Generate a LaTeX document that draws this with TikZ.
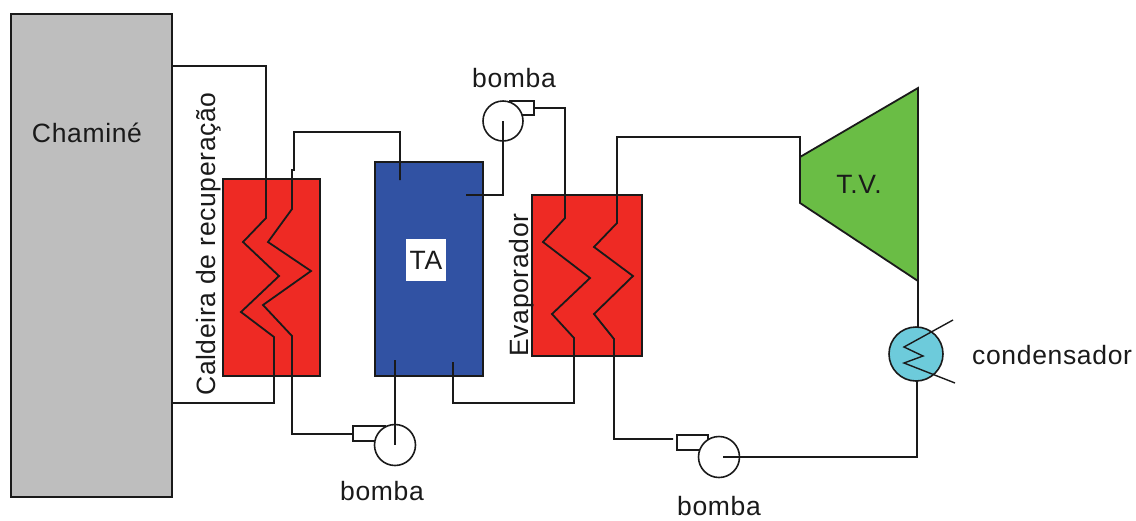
\documentclass[tikz,border=0pt]{standalone}
\usepackage{fontspec}
\setmainfont[LetterSpace=2.5]{Liberation Sans}
\definecolor{cinza}{HTML}{BEBEBE}
\definecolor{vermelho}{HTML}{EE2A24}
\definecolor{azul}{HTML}{3152A3}
\definecolor{verde}{HTML}{6ABD45}
\definecolor{ciano}{HTML}{6DCBDB}
\definecolor{traco}{HTML}{1A1A1A}
\tikzset{
	bloco/.style={draw=traco,line width=1.8pt,inner sep=0pt,outer sep=0pt},
	tubo/.style={draw=traco,line width=1.8pt,line join=miter},
	rotulo/.style={font=\fontsize{26.5}{30}\selectfont,text=traco,inner sep=0pt},
	rotor/.style={circle,draw=traco,fill=white,line width=1.6pt,inner sep=0pt,outer sep=0pt,minimum size=41pt},
}
\begin{document}
\begin{tikzpicture}[x=1pt,y=-1pt]
	\useasboundingbox (0,0) rectangle (1136,520);
	% blocos
	\node[bloco,fill=cinza,minimum width=161pt,minimum height=483pt] (chamine) at (91.5,255.5) {};
	\node[bloco,fill=vermelho,minimum width=97pt,minimum height=197pt] (caldeira) at (271.5,277.5) {};
	\node[bloco,fill=azul,minimum width=108pt,minimum height=214pt] (ta) at (429,269) {};
	\node[bloco,fill=vermelho,minimum width=110pt,minimum height=161pt] (evaporador) at (587,275.5) {};
	\path[bloco,fill=verde] (918,88) -- (918,281) -- (800,203) -- (800,157) -- cycle;
	\coordinate (tvtopo) at (800,137);
	\coordinate (tvbase) at (918,281);
	\node[fill=white,minimum width=40pt,minimum height=42pt,inner sep=0pt] (talabel) at (426,260) {};
	% pontas dos tubos
	\coordinate (gasin) at (172,66);
	\coordinate (gasout) at (172,403);
	\coordinate (taent) at (400,180);
	\coordinate (tasai) at (466,195);
	\coordinate (tafundo) at (395,360);
	\coordinate (taret) at (453,362);
	% bombas
	\draw[bloco,fill=white] (353,426) rectangle (385,441);
	\node[rotor] (bomba1) at (395,445) {};
	\draw[bloco,fill=white] (510,101) rectangle (534,115);
	\node[rotor,minimum size=40pt] (bomba2) at (503,121) {};
	\draw[bloco,fill=white] (677,435) rectangle (708,450);
	\node[rotor] (bomba3) at (719,457) {};
	\node[circle,draw=traco,fill=ciano,line width=1.6pt,inner sep=0pt,outer sep=0pt,minimum size=54pt] (condensador) at (916,354) {};
	% tubos
	\draw[tubo] (gasin) -- (266,66) -- (266,218) -- (243,242) -- (279,276) -- (241,312) -- (274,337) -- (274,403) -- (gasout);
	\draw[tubo] (taent) -- (400,132) -- (294,132) -- (294,170) -- (292,170) -- (292,209) -- (268,242) -- (311,271) -- (263,305) -- (292,336) -- (292,434) -- (353,434);
	\draw[tubo] (tafundo) -- (bomba1.center);
	\draw[tubo] (tasai) -- (503,195) -- (bomba2.center);
	\draw[tubo] (taret) -- (453,403) -- (574,403) -- (574,338) -- (552,314) -- (590,278) -- (543,242) -- (565,218) -- (565,108) -- (534,108);
	\draw[tubo] (tvtopo |- 0,157) -- (tvtopo) -- (617,137) -- (617,223) -- (594,247) -- (633,276) -- (594,314) -- (614,339) -- (614,439) -- (673,439);
	\draw[tubo] (723,457) -- (917,457) -- (condensador.south -| 917,0);
	\draw[tubo] (tvbase) -- (918,327);
	\draw[tubo,line width=1.4pt] (953,320) -- (904,347) -- (923,356) -- (904,363) -- (955,383);
	% textos
	\node[rotulo] (chaminelabel) at (87,133) {Chaminé};
	\node[rotulo,rotate=90,anchor=base] (caldeiralabel) at (215,244) {Caldeira de recuperação};
	\node[rotulo,rotate=90,anchor=base] (evaporadorlabel) at (528,285) {Evaporador};
	\node[rotulo] (tatexto) at (426,260) {TA};
	\node[rotulo] (tvlabel) at (859,184) {T.V.};
	\node[rotulo] (bomba1label) at (382,491) {bomba};
	\node[rotulo] (bomba2label) at (514,78) {bomba};
	\node[rotulo] (bomba3label) at (719,506) {bomba};
	\node[rotulo,anchor=west] (condlabel) at (972,355) {condensador};
\end{tikzpicture}
\end{document}
